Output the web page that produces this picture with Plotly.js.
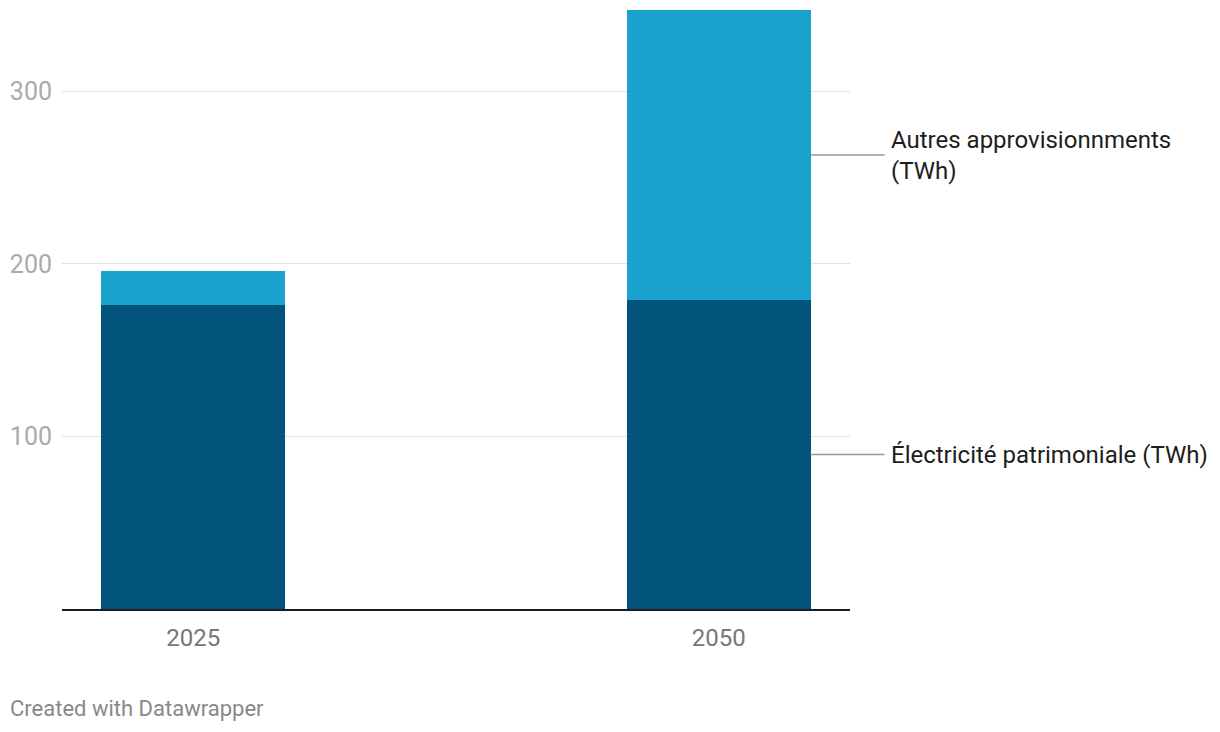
<!DOCTYPE html>
<html>
<head>
<meta charset="utf-8">
<script src="https://cdn.plot.ly/plotly-3.0.1.min.js"></script>
<style>
html,body{margin:0;padding:0;background:#fff;}
#chart{width:1220px;height:732px;}
</style>
</head>
<body>
<div id="chart"></div>
<script>
const years = ['2025', '2050'];
const patrimoniale = [176, 179];
const autres = [20, 168];
const seriesNames = ['Électricité patrimoniale (TWh)', 'Autres approvisionnments<br>(TWh)'];
const yTicks = [100, 200, 300];

const BAR_W = 0.35;
const font = 'Roboto, "Noto Sans", sans-serif';

const traces = [
  {type: 'bar', x: years, y: patrimoniale, name: seriesNames[0], marker: {color: '#03547A'}, width: BAR_W, hoverinfo: 'skip'},
  {type: 'bar', x: years, y: autres, name: seriesNames[1], marker: {color: '#1AA2CE'}, width: BAR_W, hoverinfo: 'skip'}
];

const last = years.length - 1;
const labelFont = {family: font, size: 24, color: '#1d1d1d'};
const annotations = [
  {
    x: last + BAR_W / 2, y: patrimoniale[last] / 2, xref: 'x', yref: 'y',
    text: seriesNames[0], showarrow: true, arrowhead: 0, arrowwidth: 1.5, arrowcolor: '#999',
    ax: 74, ay: 0, xanchor: 'left', yanchor: 'middle', align: 'left', borderpad: 5,
    font: labelFont
  },
  {
    x: last + BAR_W / 2, y: patrimoniale[last] + autres[last] / 2, xref: 'x', yref: 'y',
    text: seriesNames[1], showarrow: true, arrowhead: 0, arrowwidth: 1.5, arrowcolor: '#999',
    ax: 74, ay: 0, xanchor: 'left', yanchor: 'middle', align: 'left', borderpad: 5,
    font: labelFont
  },
  {
    x: -54/788, y: -(694-609)/599, xref: 'paper', yref: 'paper', xanchor: 'left', yanchor: 'top',
    text: 'Created with Datawrapper', showarrow: false,
    font: {family: font, size: 22, color: '#888'}
  }
];

const layout = {
  width: 1220, height: 732,
  margin: {l: 62, r: 370, t: 10, b: 123, pad: 0},
  barmode: 'stack',
  showlegend: false,
  paper_bgcolor: '#fff', plot_bgcolor: '#fff',
  font: {family: font},
  xaxis: {
    type: 'category', range: [-0.25, 1.25], showgrid: false, zeroline: false,
    showline: true, linecolor: '#1d1d1d', linewidth: 2,
    ticks: '', tickfont: {family: font, size: 24, color: '#777'},
    ticklabelstandoff: 6, fixedrange: true
  },
  yaxis: {
    range: [0, 347], tickvals: yTicks, showgrid: true, gridcolor: '#e2e2e2', gridwidth: 1,
    zeroline: false, showline: false, ticks: '',
    tickfont: {family: font, size: 25, color: '#aaa'}, ticklabelstandoff: 9, fixedrange: true
  },
  annotations: annotations
};

Plotly.newPlot('chart', traces, layout, {displayModeBar: false, staticPlot: true});
</script>
</body>
</html>
